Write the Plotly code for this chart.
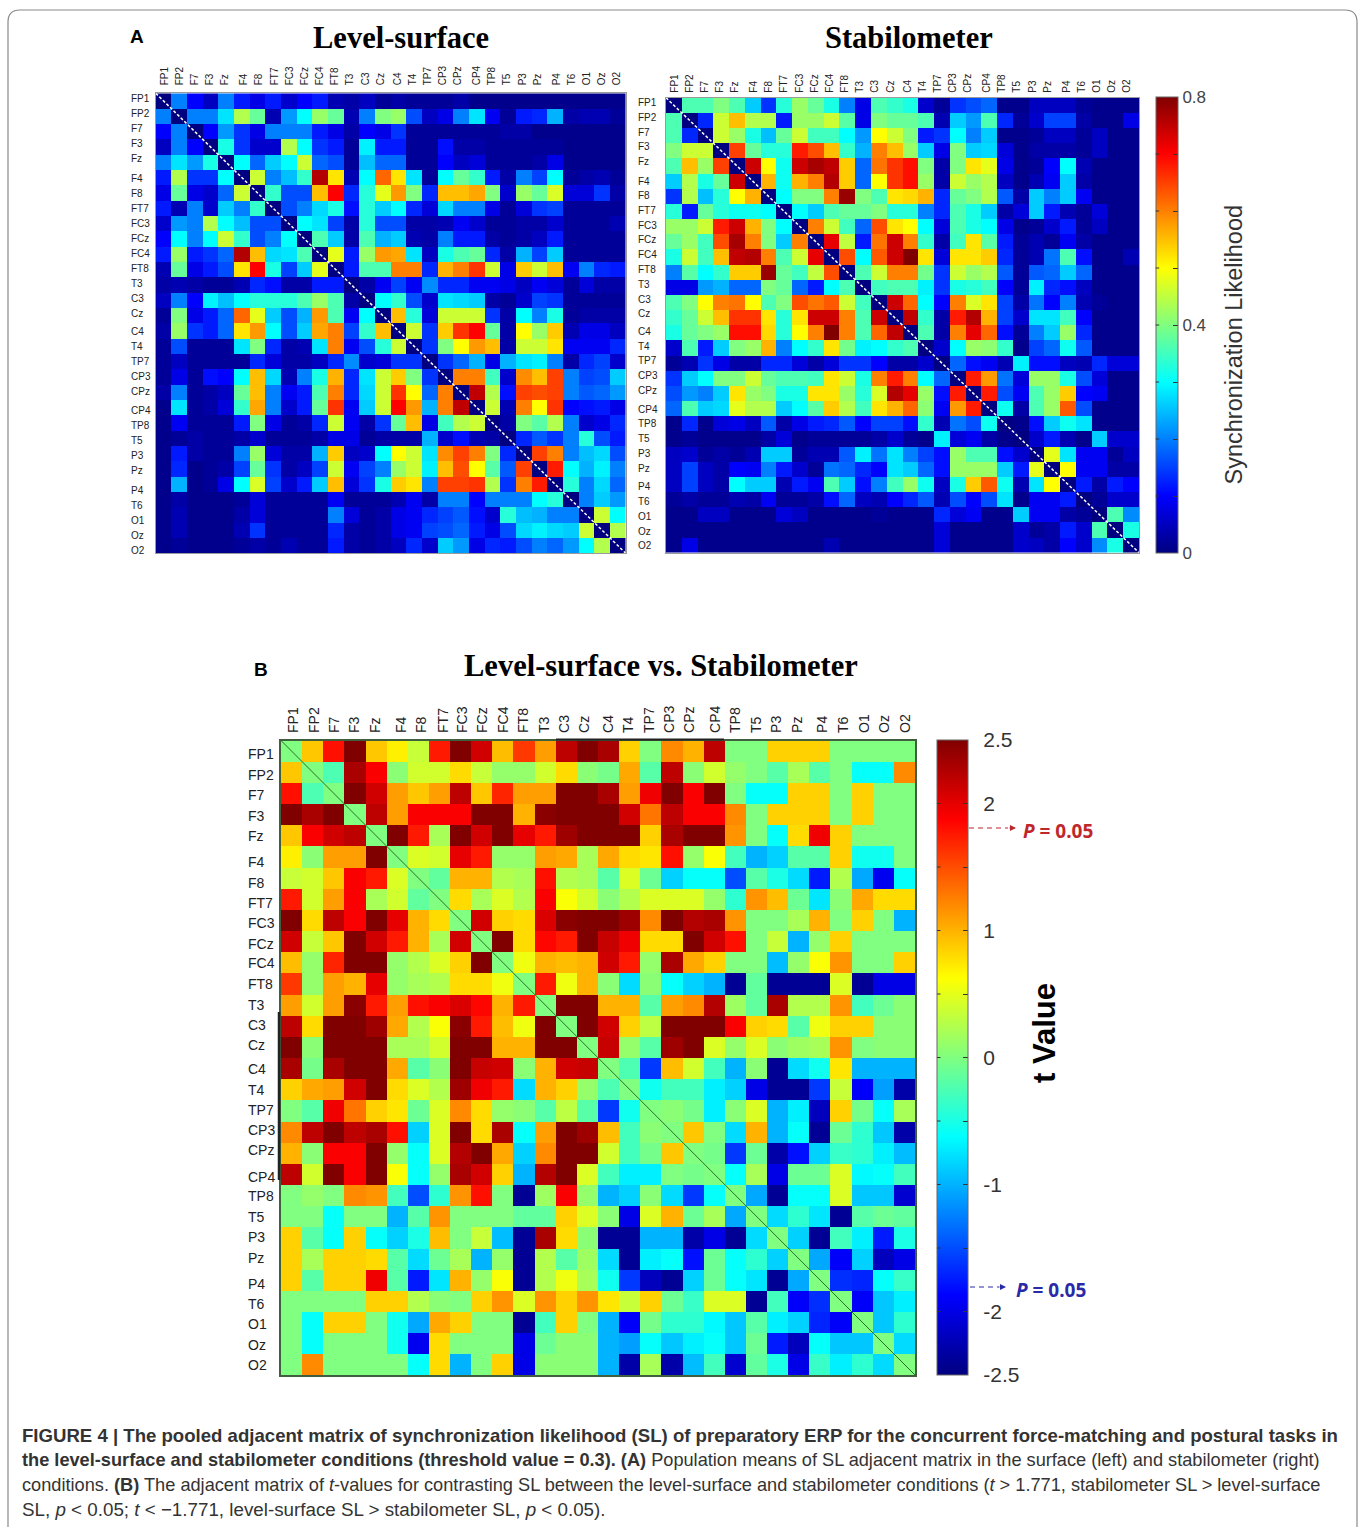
import plotly.graph_objects as go

channels = ["FP1","FP2","F7","F3","Fz","F4","F8","FT7","FC3","FCz","FC4","FT8","T3","C3","Cz","C4","T4","TP7","CP3","CPz","CP4","TP8","T5","P3","Pz","P4","T6","O1","Oz","O2"]

# Upper triangles (row i holds columns i+1..29). SL values in hundredths.
level_surface_sl = [
[20,10,5,20,12,8,12,6,10,12,4,3,5,2,3,2,2,2,3,1,1,1,1,1,1,1,1,1,1],
[20,20,28,44,38,4,22,30,42,38,4,20,40,42,16,5,8,20,28,9,2,12,13,24,3,4,4,2],
[10,22,14,8,20,20,20,12,8,3,10,8,14,2,2,2,2,2,2,3,3,1,1,1,1,1,1],
[32,14,6,6,44,30,14,12,2,29,12,12,2,2,11,3,3,2,2,2,2,2,1,1,1,1],
[30,18,26,30,46,18,16,2,25,18,18,2,2,10,5,7,2,2,2,3,8,1,1,1,1],
[46,20,25,34,76,52,4,30,62,52,28,2,30,38,34,12,3,20,15,30,2,3,4,2],
[34,16,16,55,70,13,33,48,58,40,13,55,55,57,40,6,42,38,47,7,7,14,3],
[16,20,27,32,11,33,26,30,13,7,27,20,20,8,2,7,14,15,2,2,2,2],
[30,28,15,3,33,16,16,3,3,4,9,6,2,2,3,3,6,2,2,2,4],
[36,26,3,36,24,26,4,3,20,12,12,3,2,3,5,12,2,2,2,2],
[48,12,42,58,57,28,5,32,36,38,13,3,24,15,26,2,2,2,2],
[12,36,36,60,60,13,56,60,66,46,8,54,46,55,9,20,13,12],
[3,9,15,9,21,13,13,9,9,8,5,9,7,2,7,3,3],
[30,34,16,6,28,27,26,3,2,6,15,14,2,2,2,2],
[55,33,7,46,46,46,14,3,30,20,32,2,3,3,3],
[46,14,54,66,70,38,3,50,42,54,4,8,8,5],
[14,40,50,58,55,3,46,46,52,9,9,9,13],
[14,18,24,8,24,28,29,20,3,13,15,6],
[60,60,35,6,59,55,65,20,15,16,26],
[75,44,11,65,64,65,20,17,18,22],
[46,4,60,50,66,10,11,12,8],
[3,40,37,44,20,6,8,13],
[13,17,14,20,33,16,12],
[65,60,20,25,27,16],
[68,30,24,29,20],
[33,20,27,18],
[20,26,22],
[46,30],
[44],
]

stabilometer_sl = [
[36,36,40,36,26,14,33,42,38,32,20,8,36,34,32,6,2,14,16,18,1,1,5,5,5,2,1,1,1],
[13,46,55,44,44,12,42,42,46,37,8,40,38,38,36,4,26,22,36,13,2,6,15,15,3,1,1,8],
[46,42,32,25,38,46,35,35,30,22,50,46,40,12,14,30,20,26,1,1,2,5,5,2,5,1,1],
[65,38,33,33,68,64,55,34,24,60,55,42,26,8,40,26,27,7,1,3,3,3,2,5,1,1],
[74,50,31,74,77,75,54,18,61,66,69,40,3,40,52,48,8,1,2,10,30,4,1,1,1],
[56,31,56,60,76,54,18,50,66,69,42,3,46,42,44,5,1,4,9,26,3,1,1,1],
[30,40,40,60,78,40,36,52,53,56,13,38,40,44,17,3,26,20,26,9,1,1,1],
[30,26,36,38,38,40,33,33,20,13,36,32,26,3,7,26,12,4,2,7,1,1],
[60,46,35,18,64,52,50,30,7,36,32,30,8,1,2,6,12,2,5,1,1],
[72,45,12,61,74,60,34,3,35,52,37,12,2,4,2,9,3,1,1,1],
[64,30,63,74,80,52,7,52,52,54,13,2,4,19,36,11,1,1,4],
[36,46,60,60,39,14,46,42,44,17,2,17,18,26,18,1,1,1],
[35,36,36,29,14,32,33,35,10,2,29,13,11,5,1,1,1],
[74,62,30,10,60,47,52,15,3,19,10,20,4,2,1,1],
[75,34,3,68,76,56,15,6,28,28,35,10,1,1,1],
[36,3,60,72,62,11,2,20,26,42,13,1,1,1],
[6,30,42,41,34,1,15,18,31,17,1,1,1],
[18,11,9,4,29,11,11,5,4,13,7,7],
[68,58,19,7,42,42,32,16,7,1,1],
[68,16,9,36,42,54,10,9,1,1],
[31,3,36,42,63,16,1,1,1],
[1,11,26,31,28,1,1,1],
[6,12,4,1,26,6,6],
[48,28,9,9,2,5],
[50,9,9,3,3],
[12,3,12,10],
[2,6,6],
[36,21],
[32],
]

contrast_t = [
[.9,1.8,2.5,.9,.7,.35,1.75,2.5,2.1,.95,1.6,1.1,2.2,2.5,2.3,.85,0,1.2,1.0,2.2,0,0,.85,.85,.85,0,0,0,0],
[-.25,2.3,1.9,.05,.4,.4,.8,.35,.1,.1,.4,.8,.05,-.05,1.05,-.2,2.2,.05,.4,.1,0,-.2,.2,-.2,0,-.6,-.6,1.2],
[2.5,2.1,1.1,.9,1.1,2.2,.9,1.7,1.1,1.1,2.5,2.5,2.3,1.1,1.95,2.5,1.9,2.5,0,-.6,-.6,.85,.85,0,.85,0,0],
[2.2,1.1,1.9,1.9,1.9,2.5,2.5,1.0,2.45,2.5,2.5,2.5,2.1,1.3,2.2,1.9,1.9,1.2,0,.85,.85,.85,0,.85,0,0],
[2.5,1.75,.2,2.5,2.1,2.5,2.0,1.75,2.35,2.5,2.5,2.5,.85,2.3,2.5,2.5,1.15,0,-.6,.8,1.95,.85,0,0,0],
[.45,.4,2.0,1.75,.1,.1,1.1,1.05,.2,1.05,.8,.75,1.8,.1,.6,-.3,-1,-.85,-.2,-.2,.85,-.55,-.55,0],
[-.15,1.0,1.0,.25,.2,1.8,.25,.2,-.2,.45,-.1,-.85,-.6,-.6,-1.5,-.2,-.5,-.8,-1.75,.25,-1.05,-1.95,-.6],
[.8,.2,.45,.25,1.9,.6,.4,.05,.25,.45,.45,.45,.1,-.4,1.15,.95,-.1,-.75,.05,1.05,.8,.8],
[2.1,.85,.8,2.05,2.45,2.5,2.5,2.35,1.2,2.5,2.25,2.3,1.15,0,0,.2,1.0,0,.85,0,-1.0],
[2.5,.8,1.85,1.75,2.5,2.15,1.95,.8,.8,2.5,2.1,1.8,0,.35,-1.0,.1,.85,0,0,0],
[.55,1.0,.95,1.0,2.1,1.75,.1,2.3,1.05,.85,0,0,-.95,.1,.6,1.15,0,0,.85],
[1.75,.55,1.0,.05,-.8,.05,-.6,-.85,-1.0,-2.4,-.15,-2.4,-2.4,-2.4,.45,-2.4,-2.0,-2.0],
[2.5,2.5,1.0,1.0,-.2,1.1,1.2,2.25,.15,-.15,2.3,.25,.25,1.15,-.3,-.1,.05],
[2.5,2.1,.85,.3,2.5,2.5,2.5,1.9,.85,.8,-.2,.55,.85,.85,.05,.05],
[2.15,.1,-.2,2.35,2.5,.45,.1,.45,.05,.15,.2,1.15,0,.05,.05],
[-.25,-1.6,.95,.4,-.3,-1.0,.05,-2.4,-.8,-.55,.75,-1.0,-1.0,-1.0],
[-.55,-.3,-.3,-.7,-.85,-2.0,-2.4,-2.4,-1.6,.35,-1.9,-1.1,-2.3],
[.05,-.05,-.7,.05,.45,-1.0,-.7,-2.2,.85,-.05,-.6,.2],
[.9,0,-.8,1.0,-1.0,-.6,-2.4,-.1,-.4,-.9,-2.3],
[-.05,-1.6,-.1,-2.3,-1.8,-.85,-.35,-.4,-.7,-.95],
[-.6,.2,-2.0,-.1,-.1,.45,-.65,-.6,-.3],
[-1.05,-2.4,-.6,-.6,.45,-.9,-.9,-2.1],
[-.8,-.4,-.75,-2.4,-.2,-.1,-.15],
[-.85,-2.4,-.3,-.7,-1.75,-.5],
[-1.05,-1.9,-.85,-2.2,-2.0],
[-1.65,-1.7,-.6,-.35],
[-1.9,-.9,-.7],
[-.9,-.4],
[-.8],
]

# Tick label pixel centres measured on the page (labels drift from the cells in the source)
L_X = [165,180,195,210,225,244,259,275,290,305,320,335,350,366,381,398,413,428,443,458,477,492,507,523,538,557,572,587,602,617]
L_Y = [99,114,129,144,159,179,194,209,224,239,254,269,284,299,314,332,347,362,377,392,411,426,441,456,471,491,506,521,536,551]
R_X = [675,690,705,720,735,754,769,784,800,815,830,845,860,875,891,908,923,938,953,968,987,1002,1017,1033,1048,1067,1082,1097,1112,1127]
R_Y = [102.7,117.7,132.3,147,162,181.3,196,210.7,225.3,240,254.7,269.3,284.3,299,313.7,331.3,346,360.7,375.3,390,409,423.7,438.3,453.3,468,486.7,501.7,516.3,531,545.7]
B_X = [293,314,334,354.5,375,401,421.5,443,462.5,482,503,523,544,564,584.5,608,628.5,649,669.5,689,715,735.5,756,776,797,822,843.5,864,884.5,905]
B_Y = [754,775,795,816,836,862.5,883,903,923,944,963.5,984,1005,1025,1045,1069,1089.5,1110,1130,1150,1176.5,1196,1217,1237,1258,1284,1304,1324,1345,1365]

W, H = 1360, 1527
SANS = "Liberation Sans, Arial, sans-serif"
SERIF = "Liberation Serif, Times New Roman, serif"
JET = [[0,"rgb(0,0,128)"],[.125,"rgb(0,0,255)"],[.375,"rgb(0,255,255)"],[.625,"rgb(255,255,0)"],[.875,"rgb(255,0,0)"],[1,"rgb(128,0,0)"]]

def full(upper, scale=1.0):
    n = len(channels)
    m = [[0.0]*n for _ in range(n)]
    for i, row in enumerate(upper):
        assert len(row) == n-1-i, (i, len(row))
        for k, v in enumerate(row):
            m[i][i+1+k] = m[i+1+k][i] = v*scale
    return m

fx = lambda px: px/W
fy = lambda py: 1-py/H

fig = go.Figure()
annotations, shapes = [], []

white_dash = dict(color="white",width=1.5,dash="3px,2px")
panels = [
 dict(z=full(level_surface_sl,.01), box=(155.7,625.7,93.3,553.3), lx=L_X, ly=L_Y, zr=(0,.8), fs=10, left=128.5, tl=5, diag=white_dash,frame="#9a9a9a",ls=1),
 dict(z=full(stabilometer_sl,.01), box=(666,1139,97.7,552.7), lx=R_X, ly=R_Y, zr=(0,.8), fs=10, left=636, tl=2, diag=white_dash,frame="#9a9a9a",ls=1),
 dict(z=full(contrast_t), box=(281,915,740.5,1375), lx=B_X, ly=B_Y, zr=(-2.5,2.5), fs=14, left=245.5, tl=3, diag=dict(color="#2e6b2e",width=1),frame="#3f5f3f",ls=1.5),
]
idx = list(range(len(channels)))
PAD = "\u00a0\u2009"
sl_ticks = [round(.1*i,1) for i in range(9)]
t_ticks = [-2.5,-2,-1.5,-1,-.5,0,.5,1,1.5,2,2.5]
cbars = [
 None,
 dict(x=fx(1155.7),y=fy(97),len=456,thickness=22,tickvals=sl_ticks,
      ticktext=["0","","","","0.4","","","","0.8"],tickfont=dict(family=SANS,size=17,color="#444")),
 dict(x=fx(937),y=fy(740),len=635,thickness=31,tickvals=t_ticks,
      ticktext=[PAD+v if v else "" for v in ["-2.5","-2","","-1","","0","","1","","2","2.5"]],tickfont=dict(family=SANS,size=21,color="#333")),
]
for n, p in enumerate(panels):
    s = "" if n == 0 else str(n+1)
    x0,x1,y0,y1 = p["box"]
    cw,ch = (x1-x0)/30,(y1-y0)/30
    tx = [(v-x0)/cw-.5 for v in p["lx"]]
    ty = [(v-y0)/ch-.5 for v in p["ly"]]
    kw = dict(showscale=False)
    if cbars[n]:
        kw = dict(showscale=True, colorbar=dict(xanchor="left",yanchor="top",lenmode="pixels",thicknessmode="pixels",
                  xpad=0,ypad=0,outlinewidth=1,outlinecolor="#666",ticks="inside",ticklen=5,tickcolor="#333",
                  tickwidth=1,**cbars[n]))
    fig.add_trace(go.Heatmap(z=p["z"],x=idx,y=idx,zmin=p["zr"][0],zmax=p["zr"][1],colorscale=JET,
                             xaxis="x"+s,yaxis="y"+s,hoverinfo="skip",**kw))
    fig.add_trace(go.Scatter(x=[-.5,29.5],y=[-.5,29.5],mode="lines",line=p["diag"],xaxis="x"+s,yaxis="y"+s,
                             showlegend=False,hoverinfo="skip"))
    ax = dict(domain=[fx(x0),fx(x1)],range=[-.5,29.5],anchor="y"+s,side="top",tickmode="array",tickvals=tx,ticktext=channels,
              tickangle=-90,ticks="outside",ticklen=p["tl"],tickcolor="rgba(0,0,0,0)",tickfont=dict(family=SANS,size=p["fs"],color="#222"),
              showgrid=False,zeroline=False,showline=True,linecolor=p["frame"],linewidth=p["ls"],mirror=True)
    ay = dict(domain=[fy(y1),fy(y0)],range=[29.5,-.5],anchor="x"+s,showticklabels=False,ticks="",
              showgrid=False,zeroline=False,showline=True,linecolor=p["frame"],linewidth=p["ls"],mirror=True)
    fig.update_layout(**{"xaxis"+s:ax,"yaxis"+s:ay})
    for name, v in zip(channels, ty):
        annotations.append(dict(text=name,xref="paper",yref="y"+s,x=fx(p["left"]),y=v,xanchor="left",yanchor="middle",
                                showarrow=False,font=dict(family=SANS,size=p["fs"],color="#222")))

def txt(text,x,y,size,family=SANS,color="#000",anchor="center",angle=0):
    annotations.append(dict(text=text,xref="paper",yref="paper",x=fx(x),y=fy(y),xanchor=anchor,yanchor="middle",
                            showarrow=False,textangle=angle,font=dict(family=family,size=size,color=color)))

txt("<b>Level-surface</b>",401,38,30.5,SERIF)
txt("<b>Stabilometer</b>",909,38,30.5,SERIF)
txt("<b>Level-surface vs. Stabilometer</b>",661,665.5,30.5,SERIF)
txt("<b>A</b>",137,36,19)
txt("<b>B</b>",261,669,19)
txt("Synchronization Likelihood",1233,344.5,23.5,SANS,"#333",angle=-90)
txt("<b>t Value</b>",1044,1033,31,SANS,"#000",angle=-90)
txt("<b><i>P</i> = 0.05</b>",1021,831,19,"Noto Sans","#c0272d",anchor="left")
txt("<b><i>P</i> = 0.05</b>",1014,1290,19,"Noto Sans","#2a2aa8",anchor="left")

caption = [
 "<b>FIGURE 4 | The pooled adjacent matrix of synchronization likelihood (SL) of preparatory ERP for the concurrent force-matching and postural tasks in</b>",
 "<b>the level-surface and stabilometer conditions (threshold value = 0.3). (A)</b> Population means of SL adjacent matrix in the surface (left) and stabilometer (right)",
 "conditions. <b>(B)</b> The adjacent matrix of <i>t</i>-values for contrasting SL between the level-surface and stabilometer conditions (<i>t</i> > 1.771, stabilometer SL > level-surface",
 "SL, <i>p</i> < 0.05; <i>t</i> < −1.771, level-surface SL > stabilometer SL, <i>p</i> < 0.05).",
]
for line, y, size in zip(caption,[1435,1460,1485,1509],[18.6,18.2,18.2,18.8]):
    txt(line,20,y,size,SANS,"#333",anchor="left")

def seg(x0,y0,x1,y1,color,width,dash="solid"):
    shapes.append(dict(type="line",xref="paper",yref="paper",x0=fx(x0),y0=fy(y0),x1=fx(x1),y1=fy(y1),
                       line=dict(color=color,width=width,dash=dash)))
seg(969,828,1008,828,"#c0272d",1.2,"5px,4px")
seg(970,1287,999,1287,"#2a2aa8",1.2,"5px,4px")
seg(279,1012,279,1180,"#222",2.5)
seg(556,739.5,724,739.5,"#222",2)
shapes.append(dict(type="path",xref="paper",yref="paper",
    path=f"M {fx(8)} 0 L {fx(8)} {fy(22)} Q {fx(8)} {fy(10)} {fx(20)} {fy(10)} L {fx(1345)} {fy(10)} Q {fx(1357)} {fy(10)} {fx(1357)} {fy(22)} L {fx(1357)} {fy(1527)}",
    line=dict(color="#8a8a8a",width=1.2)))
for x,y,c in [(1016,828,"#c0272d"),(1006,1287,"#2a2aa8")]:
    annotations.append(dict(xref="paper",yref="paper",axref="pixel",ayref="pixel",x=fx(x),y=fy(y),
                            ax=-8,ay=0,text="",showarrow=True,arrowhead=2,arrowsize=1,arrowwidth=1.2,arrowcolor=c))

# left-hand tick marks of the colour bars (plotly draws only the right-hand ones)
def left_ticks(vals, lo, hi, bar_left, top, bottom):
    for v in vals:
        py = bottom-(v-lo)/(hi-lo)*(bottom-top)
        if lo < v < hi:
            annotations.append(dict(xref="paper",yref="paper",axref="pixel",ayref="pixel",x=fx(bar_left),y=fy(py),
                                    ax=5,ay=0,text="",showarrow=True,arrowhead=0,arrowwidth=1,arrowcolor="#333"))
left_ticks(sl_ticks,0,.8,1155.7,97,553)
left_ticks(t_ticks,-2.5,2.5,937,740,1375)

fig.update_layout(width=W,height=H,autosize=False,margin=dict(l=0,r=0,t=0,b=0),paper_bgcolor="white",plot_bgcolor="white",
                  showlegend=False,annotations=annotations,shapes=shapes)
fig.write_html("out.html",config={"displayModeBar":False},post_script="document.body.style.margin='0';")
